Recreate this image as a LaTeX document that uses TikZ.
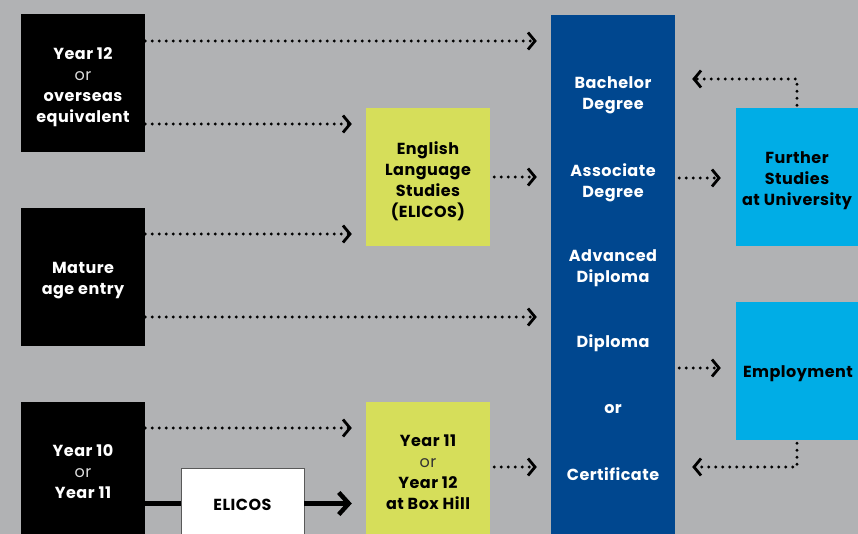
\documentclass[tikz,border=0pt]{standalone}
\usepackage{fontspec}
\setmainfont{Poppins}[LetterSpace=3]
\usetikzlibrary{arrows.meta}
\definecolor{bg}{HTML}{B1B2B4}
\definecolor{navy}{HTML}{00478F}
\definecolor{lime}{HTML}{D6DE5A}
\definecolor{sky}{HTML}{00ADE6}
\definecolor{orgrey}{HTML}{DDDDDD}
\tikzset{
  box/.style={rectangle, inner sep=0pt, minimum width=124pt, minimum height=138pt},
  blackbox/.style={box, fill=black},
  limebox/.style={box, fill=lime},
  skybox/.style={box, fill=sky},
  txt/.style={inner sep=0pt, align=center, font=\fontsize{16}{21}\selectfont\bfseries},
  wtxt/.style={txt, text=white},
  ktxt/.style={txt, text=black},
  dotarr/.style={line width=3.2pt, line cap=round, dash pattern=on 0pt off 7pt,
    -{Straight Barb[length=7pt,width=17pt,line width=2.8pt]}},
  solidline/.style={line width=4.5pt},
  solidarr/.style={line width=4.5pt, -{Straight Barb[length=10pt,width=22pt,line width=4.5pt]}},
}
\newcommand{\orw}[1]{{\mdseries\color{#1}or}}
\begin{document}
\begin{tikzpicture}[x=1pt,y=-1pt]
\fill[bg] (0,0) rectangle (858,534);
\useasboundingbox (0,0) rectangle (858,534);
\clip (0,0) rectangle (858,534);

% left column
\node[blackbox] (y12) at (83,83) {};
\node[wtxt] (y12t) at (83,87.5) {Year 12\\\orw{orgrey}\\overseas\\equivalent};
\node[blackbox] (mat) at (83,277) {};
\node[wtxt] (matt) at (83,281) {Mature\\age entry};
\node[blackbox] (y10) at (83,470.5) {};
\node[wtxt] (y10t) at (83,471.5) {Year 10\\\orw{orgrey}\\Year 11};
\node[rectangle, fill=white, draw=gray!70!black, line width=0.8pt, minimum width=123pt, minimum height=72pt,
      inner sep=0pt] (elicos) at (242.5,504) {};
\node[ktxt] (elicost) at (242.5,505) {ELICOS};

% middle column
\node[limebox] (els) at (428,177) {};
\node[ktxt] (elst) at (428,181) {English\\Language\\Studies\\(ELICOS)};
\node[limebox] (y11) at (428,470.5) {};
\node[ktxt] (y11t) at (428,472.5) {Year 11\\\orw{black!80}\\Year 12\\at Box Hill};

% blue column
\node[rectangle, fill=navy, minimum width=124pt, minimum height=525pt, inner sep=0pt] (blue) at (613,277.5) {};
\node[wtxt] (bach) at (613,95.5) {Bachelor\\Degree};
\node[wtxt] (assoc) at (613,182.5) {Associate\\Degree};
\node[wtxt] (adv) at (613,268.5) {Advanced\\Diploma};
\node[wtxt] (dip) at (613,343) {Diploma};
\node[wtxt] (or) at (613,409) {or};
\node[wtxt] (cert) at (613,474) {Certificate};

% right column
\node[skybox] (further) at (798,177.5) {};
\node[ktxt] (furthert) at (797,180.5) {Further\\Studies\\at University};
\node[skybox] (employ) at (798,371) {};
\node[ktxt] (employt) at (798,374) {Employment};

% connectors
\draw[dotarr, shorten >=14pt] (y12.east |- 0,41) -- (blue.west |- 0,41);
\draw[dotarr, shorten >=14pt] (y12.east |- 0,124) -- (els.west |- 0,124);
\draw[dotarr, shorten >=14pt] (mat.east |- 0,234) -- (els.west |- 0,234);
\draw[dotarr, shorten >=14pt] (mat.east |- 0,317) -- (blue.west |- 0,317);
\draw[dotarr, shorten >=14pt] (y10.east |- 0,428) -- (y11.west |- 0,428);
\draw[solidline] (y10.east |- 0,503.5) -- (elicos.west |- 0,503.5);
\draw[solidarr, shorten >=14pt] (elicos.east |- 0,503.5) -- (y11.west |- 0,503.5);

\draw[dotarr, shorten >=14pt, shorten <=4pt] (els.east) -- (els.east -| blue.west);
\draw[dotarr, shorten >=14pt, shorten <=4pt] (y11.east |- 0,467) -- (blue.west |- 0,467);

\draw[dotarr, shorten >=15pt, shorten <=4pt] (blue.east |- 0,178) -- (further.west |- 0,178);
\draw[dotarr, shorten >=15pt, shorten <=4pt] (blue.east |- 0,368) -- (employ.west |- 0,368);

\draw[dotarr, shorten >=17pt, shorten <=3pt] (further.north -| 797,0) -- (797,79) -- (blue.east |- 0,79);
\draw[dotarr, shorten >=17pt, shorten <=3pt] (employ.south -| 797,0) -- (797,467) -- (blue.east |- 0,467);
\end{tikzpicture}
\end{document}
